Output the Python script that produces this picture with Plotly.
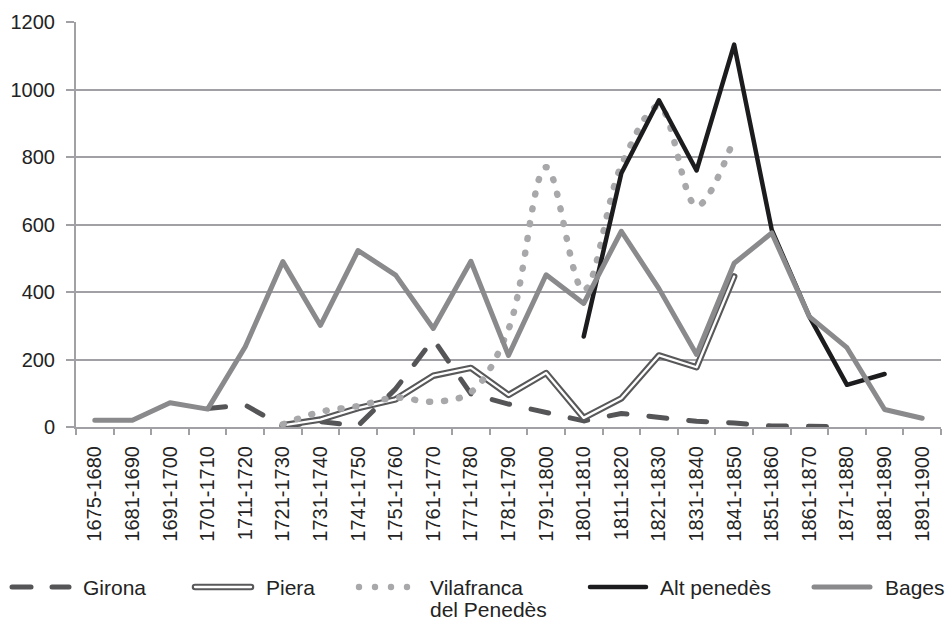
import plotly.graph_objects as go

periods = ["1675-1680", "1681-1690", "1691-1700", "1701-1710", "1711-1720",
           "1721-1730", "1731-1740", "1741-1750", "1751-1760", "1761-1770",
           "1771-1780", "1781-1790", "1791-1800", "1801-1810", "1811-1820",
           "1821-1830", "1831-1840", "1841-1850", "1851-1860", "1861-1870",
           "1871-1880", "1881-1890", "1891-1900"]

girona = [None, None, None, 55, 65, 2, 16, 4, 113, 260, 98, 68, 42, 18, 40,
          27, 17, 12, 3, 2, 1, None, None]
piera = [None, None, None, None, None, 5, 22, 56, 82, 152, 175, 95, 160, 27,
         85, 212, 177, 446, None, None, None, None, None]
vilafranca = [None, None, None, None, None, 8, 45, 62, 87, 75, 103, 290, 770,
              405, 775, 950, 655, 855, None, None, None, None, None]
alt_penedes = [None] * 13 + [268, 752, 968, 760, 1133, 584, 327, 125, 157, None]
bages = [20, 20, 72, 53, 238, 490, 301, 523, 450, 292, 491, 212, 451, 366,
         580, 410, 215, 485, 575, 327, 235, 52, 26]

y_ticks = [0, 200, 400, 600, 800, 1000, 1200]

C_GIRONA = "rgb(85,85,88)"
C_PIERA = "rgb(88,88,90)"
C_VILA = "rgb(168,168,171)"
C_ALT = "rgb(28,28,30)"
C_BAGES = "rgb(138,138,141)"
GRID = "rgb(160,160,165)"
TXT = "rgb(35,35,35)"
FONT = "Liberation Sans, Arial, Helvetica, sans-serif"

fig = go.Figure()
fig.add_trace(go.Scatter(x=periods, y=girona, mode="lines", name="Girona",
                         line=dict(color=C_GIRONA, width=5, dash="18px,22px")))
fig.add_trace(go.Scatter(x=periods, y=piera, mode="lines", name="Piera",
                         line=dict(color=C_PIERA, width=6.5)))
fig.add_trace(go.Scatter(x=periods, y=piera, mode="lines", name="Piera inner",
                         line=dict(color="white", width=2.3), hoverinfo="skip"))
fig.add_trace(go.Scatter(x=periods, y=vilafranca, mode="lines",
                         name="Vilafranca del Penedès",
                         line=dict(color=C_VILA, width=6.5, dash="1px,14px",
                                   shape="spline", smoothing=1.0)))
fig.add_trace(go.Scatter(x=periods, y=alt_penedes, mode="lines", name="Alt penedès",
                         line=dict(color=C_ALT, width=4.5)))
fig.add_trace(go.Scatter(x=periods, y=bages, mode="lines", name="Bages",
                         line=dict(color=C_BAGES, width=5)))

L, R, T, B = 76, 4, 22, 193
W, H = 945, 620
PW, PH = W - L - R, H - T - B


def px(x):
    return (x - L) / PW


def py(y):
    return (H - B - y) / PH


shapes = []
LY = 587
# Girona sample
for a, b in [(12, 31), (52, 69)]:
    shapes.append(dict(type="line", xref="paper", yref="paper", x0=px(a), x1=px(b),
                       y0=py(LY), y1=py(LY), line=dict(color=C_GIRONA, width=5)))
# Piera sample
shapes.append(dict(type="line", xref="paper", yref="paper", x0=px(195), x1=px(251),
                   y0=py(LY), y1=py(LY), line=dict(color=C_PIERA, width=6.5)))
shapes.append(dict(type="line", xref="paper", yref="paper", x0=px(195), x1=px(251),
                   y0=py(LY), y1=py(LY), line=dict(color="white", width=2.3)))
# Vilafranca sample dots
for cx in [359, 375, 391, 407]:
    shapes.append(dict(type="circle", xref="paper", yref="paper",
                       x0=px(cx - 3.2), x1=px(cx + 3.2), y0=py(LY + 3.2), y1=py(LY - 3.2),
                       fillcolor=C_VILA, line=dict(width=0)))
# Alt penedès sample
shapes.append(dict(type="line", xref="paper", yref="paper", x0=px(590), x1=px(646),
                   y0=py(LY), y1=py(LY), line=dict(color=C_ALT, width=4.5)))
# Bages sample
shapes.append(dict(type="line", xref="paper", yref="paper", x0=px(814), x1=px(870),
                   y0=py(LY), y1=py(LY), line=dict(color=C_BAGES, width=5)))

legend_texts = [("Girona", 82, LY), ("Piera", 265, LY), ("Vilafranca", 429, LY),
                ("del Penedès", 429, LY + 22), ("Alt penedès", 659, LY),
                ("Bages", 884, LY)]
annotations = [dict(text=t, x=px(x), y=py(y), xref="paper", yref="paper",
                    xanchor="left", yanchor="middle", showarrow=False,
                    font=dict(family=FONT, size=21, color=TXT), borderpad=0)
               for t, x, y in legend_texts]

fig.update_layout(
    width=W, height=H,
    margin=dict(l=L, r=R, t=T, b=B),
    paper_bgcolor="white", plot_bgcolor="white",
    showlegend=False,
    font=dict(family=FONT, color=TXT),
    shapes=shapes, annotations=annotations,
    xaxis=dict(type="category", categoryorder="array", categoryarray=periods,
               range=[-0.5, len(periods) - 0.5], tickangle=-90,
               tickson="boundaries", ticks="outside", ticklen=6, tickwidth=2,
               tickcolor=GRID, showline=True, linecolor=GRID, linewidth=2,
               showgrid=False, tickfont=dict(size=20, color=TXT, family=FONT),
               ticklabelstandoff=9, automargin=False),
    yaxis=dict(range=[0, 1200], tickvals=y_ticks, ticks="outside", ticklen=8,
               tickwidth=2, tickcolor=GRID, showline=True, linecolor=GRID,
               linewidth=2, showgrid=True, gridcolor=GRID, gridwidth=2,
               zeroline=False, tickfont=dict(size=20, color=TXT, family=FONT),
               ticklabelstandoff=7, automargin=False),
)

post = """
document.body.style.margin = '0';
document.body.style.padding = '0';
var gd = document.getElementById('{plot_id}');
function fixCaps(){
  document.querySelectorAll('.scatterlayer path.js-line, .shapelayer path').forEach(function(p){
    p.style.strokeLinecap = 'round';
    p.style.strokeLinejoin = 'round';
  });
}
fixCaps();
if (gd && gd.on) { gd.on('plotly_afterplot', fixCaps); }
"""

fig.write_html("out.html", post_script=post, config={"displayModeBar": False})
